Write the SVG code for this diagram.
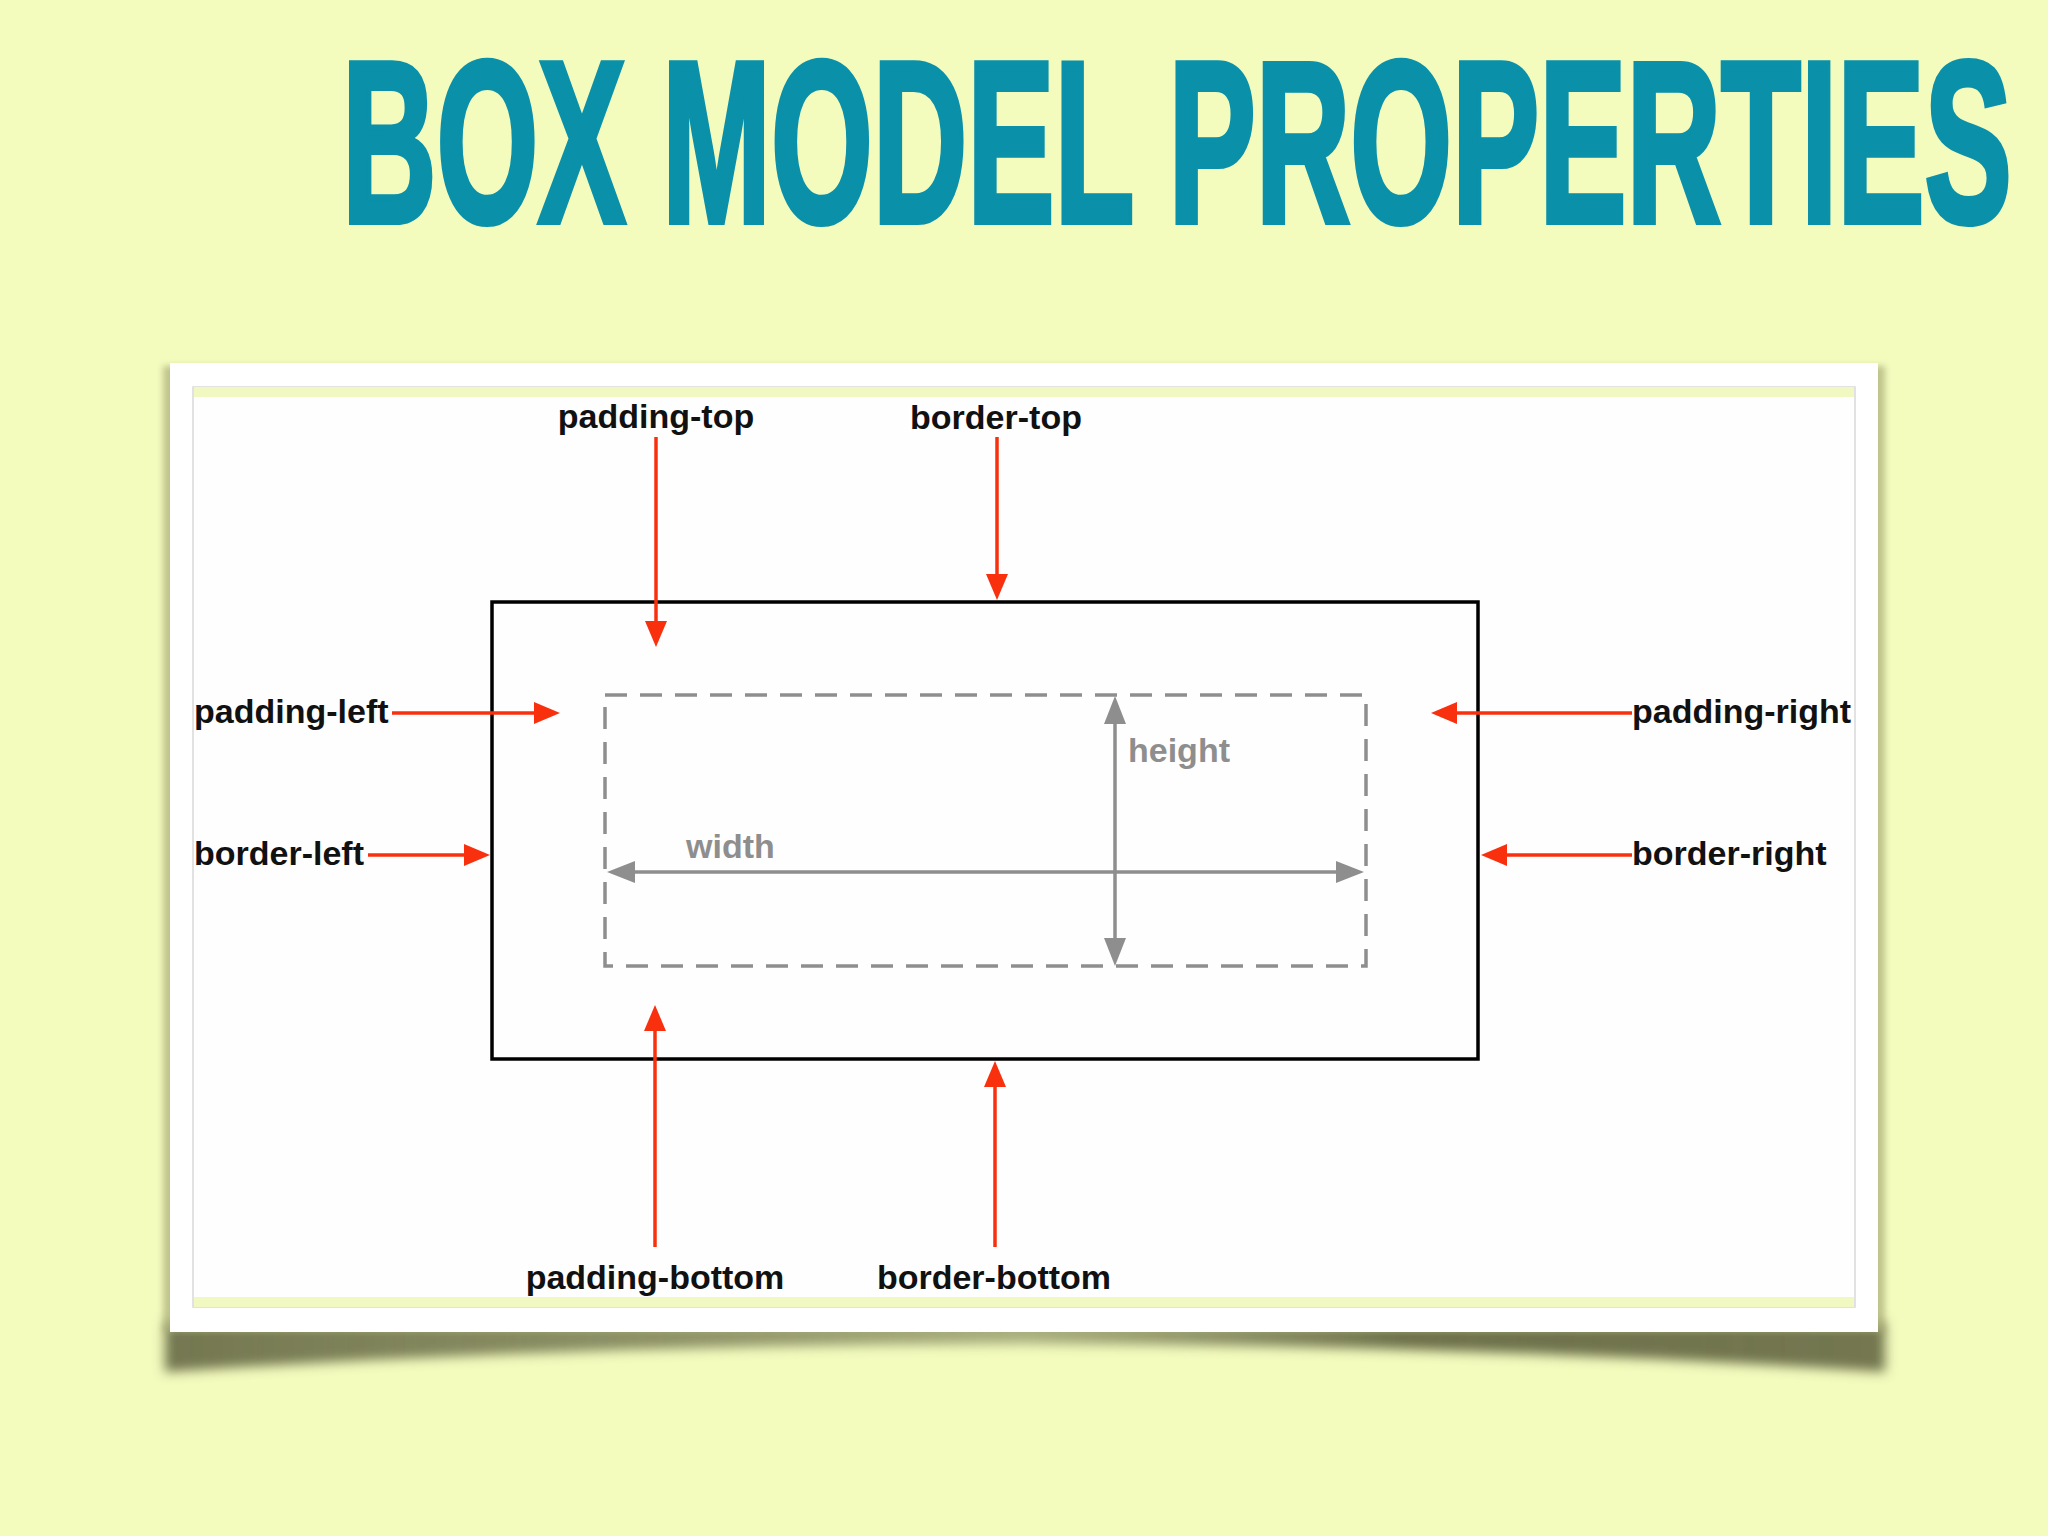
<svg xmlns="http://www.w3.org/2000/svg" width="2048" height="1536" viewBox="0 0 2048 1536">
  <defs>
    <style>
      .lbl { font-family: "Liberation Sans", Arial, sans-serif; font-weight: bold; font-size: 34px; fill: #111111; }
      .dim { font-family: "Liberation Sans", Arial, sans-serif; font-weight: bold; font-size: 34px; fill: #8e8e8e; }
      .red { stroke: #f8300e; stroke-width: 3.5; fill: none; }
      .gray { stroke: #8e8e8e; stroke-width: 3.5; fill: none; }
    </style>
    <marker id="ah-red" viewBox="0 0 26 22" refX="0" refY="11" markerWidth="26" markerHeight="22" markerUnits="userSpaceOnUse" orient="auto">
      <path d="M0,0 L26,11 L0,22 Z" fill="#f8300e"/>
    </marker>
    <marker id="ah-gray" viewBox="0 0 28 22" refX="0" refY="11" markerWidth="28" markerHeight="22" markerUnits="userSpaceOnUse" orient="auto-start-reverse">
      <path d="M0,0 L28,11 L0,22 Z" fill="#8e8e8e"/>
    </marker>
    <linearGradient id="shadeGrad" x1="0" y1="0" x2="1" y2="0">
      <stop offset="0" stop-color="#6d704a" stop-opacity="0.95"/>
      <stop offset="0.3" stop-color="#6d704a" stop-opacity="0.75"/>
      <stop offset="0.5" stop-color="#6d704a" stop-opacity="0.55"/>
      <stop offset="0.72" stop-color="#5f623e" stop-opacity="0.9"/>
      <stop offset="1" stop-color="#6d704a" stop-opacity="0.95"/>
    </linearGradient>
    <filter id="blur6" x="-5%" y="-50%" width="110%" height="200%">
      <feGaussianBlur stdDeviation="6"/>
    </filter>
    <filter id="blur3" x="-5%" y="-5%" width="110%" height="110%">
      <feGaussianBlur stdDeviation="3"/>
    </filter>
  </defs>

  <rect width="2048" height="1536" fill="#f3fbbd"/>

  <g id="title">
    <text transform="scale(0.56 1)" x="610.7" y="222" font-family="'Liberation Sans', Arial, sans-serif" font-weight="bold" font-size="230" fill="#0a91a9" stroke="#0a91a9" stroke-width="5" vector-effect="non-scaling-stroke" textLength="2982" lengthAdjust="spacingAndGlyphs">BOX MODEL PROPERTIES</text>
  </g>

  <g id="card">
    <path d="M165,1322 L1885,1322 L1885,1372 Q1025,1316 165,1372 Z" fill="url(#shadeGrad)" filter="url(#blur6)"/>
    <rect x="163" y="366" width="1722" height="966" fill="#a9ad78" opacity="0.7" filter="url(#blur3)"/>
    <rect x="170" y="363" width="1708" height="969" fill="#ffffff"/>
    <rect x="193" y="387" width="1662" height="920" fill="#fefefe" stroke="#d9d9d9" stroke-width="1.5"/>
    <rect x="194" y="387" width="1660" height="10" fill="#f1f8c2"/>
    <rect x="194" y="1297" width="1660" height="10" fill="#f1f8c2"/>
  </g>

  <g id="border-box">
    <rect x="492" y="602" width="986" height="457" fill="none" stroke="#000000" stroke-width="3.5"/>
  </g>

  <g id="content-box">
    <rect x="605" y="695" width="761" height="271" fill="none" stroke="#8e8e8e" stroke-width="3.5" stroke-dasharray="22 13"/>
  </g>

  <g id="connectors">
    <line class="red" x1="656" y1="437" x2="656" y2="621" marker-end="url(#ah-red)"/>
    <line class="red" x1="997" y1="437" x2="997" y2="574" marker-end="url(#ah-red)"/>
    <line class="red" x1="392" y1="713" x2="534" y2="713" marker-end="url(#ah-red)"/>
    <line class="red" x1="368" y1="855" x2="464" y2="855" marker-end="url(#ah-red)"/>
    <line class="red" x1="1632" y1="713" x2="1457" y2="713" marker-end="url(#ah-red)"/>
    <line class="red" x1="1632" y1="855" x2="1507" y2="855" marker-end="url(#ah-red)"/>
    <line class="red" x1="655" y1="1247" x2="655" y2="1031" marker-end="url(#ah-red)"/>
    <line class="red" x1="995" y1="1247" x2="995" y2="1087" marker-end="url(#ah-red)"/>
    <line class="gray" x1="635" y1="872" x2="1336" y2="872" marker-start="url(#ah-gray)" marker-end="url(#ah-gray)"/>
    <line class="gray" x1="1115" y1="724" x2="1115" y2="938" marker-start="url(#ah-gray)" marker-end="url(#ah-gray)"/>
  </g>

  <g id="label-padding-top"><text class="lbl" x="656" y="428" text-anchor="middle">padding-top</text></g>
  <g id="label-border-top"><text class="lbl" x="996" y="429" text-anchor="middle">border-top</text></g>
  <g id="label-padding-left"><text class="lbl" x="194" y="723">padding-left</text></g>
  <g id="label-border-left"><text class="lbl" x="194" y="865">border-left</text></g>
  <g id="label-padding-right"><text class="lbl" x="1632" y="723">padding-right</text></g>
  <g id="label-border-right"><text class="lbl" x="1632" y="865">border-right</text></g>
  <g id="label-padding-bottom"><text class="lbl" x="655" y="1289" text-anchor="middle">padding-bottom</text></g>
  <g id="label-border-bottom"><text class="lbl" x="994" y="1289" text-anchor="middle">border-bottom</text></g>
  <g id="label-height"><text class="dim" x="1128" y="762">height</text></g>
  <g id="label-width"><text class="dim" x="686" y="858">width</text></g>
</svg>
